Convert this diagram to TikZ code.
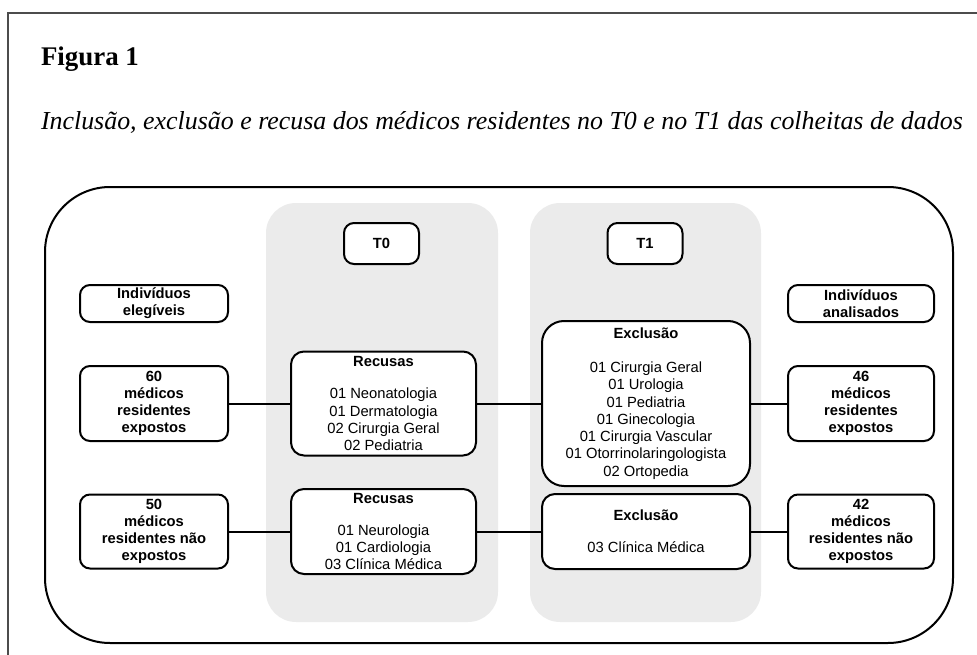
\documentclass[tikz,border=0pt]{standalone}
\usepackage{fontspec}
\setmainfont{Liberation Serif}
\setsansfont{Liberation Sans}

\begin{document}
\begin{tikzpicture}[
  x=1bp,y=-1bp,
  line width=2bp,
  % every box of the flow chart: white, rounded, sans serif
  box/.style={draw,fill=white,rounded corners=10bp,align=center,inner sep=0pt,
    font=\sffamily\fontsize{14.8}{17.3}\selectfont},
  head/.style={box,font=\sffamily\bfseries\fontsize{14.8}{17.3}\selectfont},
  panel/.style={fill=black!8,draw=none,rounded corners=30bp},
  frame/.style={draw=black!70,line width=1.3bp},
  link/.style={line width=2bp},
]
\useasboundingbox (0,0) rectangle (977,655);

%--- geometry ----------------------------------------------------------------
\def\colL{154}      % left column: eligible groups
\def\colA{383.5}    % T0 column
\def\colB{646}      % T1 column
\def\colR{861}      % right column: analysed groups
\def\rowH{243.5}    % T0 / T1 labels
\def\rowI{303.5}    % "Indivíduos" labels
\def\rowE{403.5}    % exposed residents
\def\rowN{531.5}    % non exposed residents

%--- page frame and caption ---------------------------------------------------
\draw[frame] (8,655) -- (8,13) -- (977,13);
\node[anchor=base west,inner sep=0pt,font=\bfseries\fontsize{27}{32}\selectfont]
  (fig) at (40,66) {Figura 1};
\node[anchor=base west,inner sep=0pt,font=\itshape\fontsize{26}{30}\selectfont]
  (cap) at (40,130) {Inclusão, exclusão e recusa dos médicos residentes no T0 e no T1 das colheitas de dados};

%--- background: outer outline and the two grey time panels -------------------
\draw[line width=2bp,rounded corners=65bp] (45,187) rectangle (953,643);
\fill[panel] (266,203) rectangle (498,622);
\fill[panel] (530,203) rectangle (761,622);

%--- headings -----------------------------------------------------------------
\node[head,minimum width=75bp,minimum height=41bp] (t0) at (381.5,\rowH) {T0};
\node[head,minimum width=75bp,minimum height=41bp] (t1) at (645,\rowH) {T1};
\node[head,minimum width=148bp,minimum height=37bp] (eleg) at (\colL,\rowI)
  {Indivíduos\\elegíveis};
\node[head,minimum width=146bp,minimum height=37bp] (anal) at (\colR,\rowI)
  {Indivíduos\\analisados};

%--- exposed residents ----------------------------------------------------------
\node[head,minimum width=148bp,minimum height=75bp] (expA) at (\colL,\rowE)
  {60\\médicos\\residentes\\expostos};
\node[box,rounded corners=13bp,minimum width=185bp,minimum height=104bp] (recA)
  at (\colA,\rowE)
  {\textbf{Recusas}\\[15bp]01 Neonatologia\\01 Dermatologia\\02 Cirurgia Geral\\02 Pediatria};
\node[box,rounded corners=22bp,minimum width=208bp,minimum height=165bp] (excA)
  at (\colB,\rowE)
  {\textbf{Exclusão}\\[17bp]01 Cirurgia Geral\\01 Urologia\\01 Pediatria\\01 Ginecologia\\
   01 Cirurgia Vascular\\01 Otorrinolaringologista\\02 Ortopedia};
\node[head,minimum width=146bp,minimum height=75bp] (expB) at (\colR,\rowE)
  {46\\médicos\\residentes\\expostos};

%--- non exposed residents ------------------------------------------------------
\node[head,minimum width=148bp,minimum height=74bp] (nexA) at (\colL,\rowN)
  {50\\médicos\\residentes não\\expostos};
\node[box,rounded corners=13bp,minimum width=185bp,minimum height=85bp] (recB)
  at (\colA,\rowN)
  {\textbf{Recusas}\\[15bp]01 Neurologia\\01 Cardiologia\\03 Clínica Médica};
\node[box,rounded corners=13bp,minimum width=208bp,minimum height=75bp] (excB)
  at (\colB,\rowN)
  {\textbf{Exclusão}\\[15bp]03 Clínica Médica};
\node[head,minimum width=146bp,minimum height=74bp] (nexB) at (\colR,\rowN)
  {42\\médicos\\residentes não\\expostos};

%--- connectors -----------------------------------------------------------------
\draw[link] (expA) -- (recA);
\draw[link] (recA) -- (excA);
\draw[link] (excA) -- (expB);
\draw[link] (nexA) -- (recB);
\draw[link] (recB) -- (excB);
\draw[link] (excB) -- (nexB);

\end{tikzpicture}
\end{document}
